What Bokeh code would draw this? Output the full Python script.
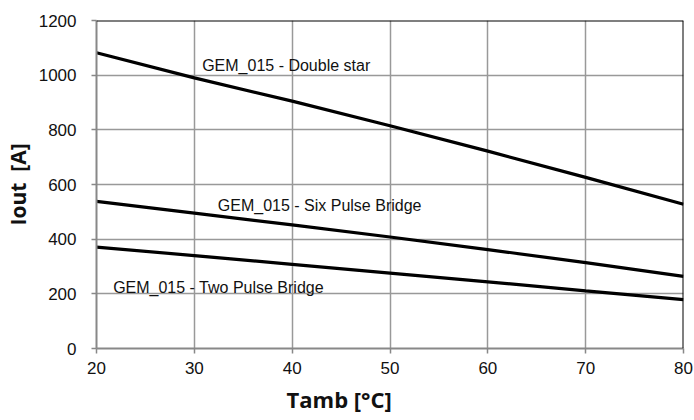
from bokeh.plotting import figure
from bokeh.models import Span, Label, FixedTicker, Title
from bokeh.embed import file_html
from bokeh.resources import INLINE

tamb = [20, 30, 40, 50, 60, 70, 80]
double_star = [1082, 990, 905, 815, 722, 626, 528]
six_pulse = [538, 495, 452, 408, 362, 314, 264]
two_pulse = [371, 340, 308, 276, 244, 211, 179]

series_labels = ["GEM_015 - Double star", "GEM_015 - Six Pulse Bridge", "GEM_015 - Two Pulse Bridge"]
label_x = [30.8, 32.4, 21.7]
label_y = [1035, 523, 223]

x_ticks = [20, 30, 40, 50, 60, 70, 80]
y_ticks = [0, 200, 400, 600, 800, 1000, 1200]

p = figure(width=694, height=420, x_range=(20, 80), y_range=(0, 1200),
           output_backend="svg", toolbar_location=None,
           min_border_left=96, min_border_right=11, min_border_top=20, min_border_bottom=72)
p.frame_width = 587
p.frame_height = 328
p.outline_line_color = None
p.background_fill_color = "white"

for ys in (double_star, six_pulse, two_pulse):
    p.line(tamb, ys, line_color="black", line_width=3.2)

for t, lx, ly in zip(series_labels, label_x, label_y):
    p.add_layout(Label(x=lx, y=ly, text=t, text_font="Liberation Sans", text_font_size="16px",
                       text_color="#111111", text_baseline="middle"))

p.add_layout(Span(location=1200, dimension="width", line_color="black", line_width=2))
p.add_layout(Span(location=80, dimension="height", line_color="black", line_width=2))

for ax in (p.xaxis[0], p.yaxis[0]):
    ax.axis_line_color = "#888888"
    ax.axis_line_width = 2
    ax.major_tick_line_color = "#888888"
    ax.major_tick_line_width = 1.5
    ax.major_tick_out = 5
    ax.major_tick_in = 0
    ax.minor_tick_line_color = None
    ax.major_label_text_font = "Liberation Sans"
    ax.major_label_text_font_size = "17px"
    ax.major_label_text_color = "#111111"
    ax.axis_label_text_font = "Open Sans"
    ax.axis_label_text_font_style = "bold"
    ax.axis_label_text_font_size = "21px"
    ax.axis_label_text_color = "#111111"

p.xaxis.ticker = FixedTicker(ticks=x_ticks)
p.yaxis.ticker = FixedTicker(ticks=y_ticks)
p.yaxis.axis_label = "Iout\u00a0\u00a0[A]"
p.xaxis.major_label_standoff = 8
p.yaxis.major_label_standoff = 15
p.yaxis.axis_label_standoff = 4

# x-axis title, placed left of the frame centre as in the reference
p.add_layout(Title(text="Tamb [°C]", align="left", offset=190, standoff=10,
                   text_font="Open Sans", text_font_style="bold",
                   text_font_size="22px", text_color="#111111"), "below")

for g in (p.xgrid[0], p.ygrid[0]):
    g.grid_line_color = "#999999"
    g.grid_line_width = 1.5
p.xgrid.ticker = FixedTicker(ticks=x_ticks)
p.ygrid.ticker = FixedTicker(ticks=y_ticks)

open("out.html", "w").write(file_html(p, INLINE))
